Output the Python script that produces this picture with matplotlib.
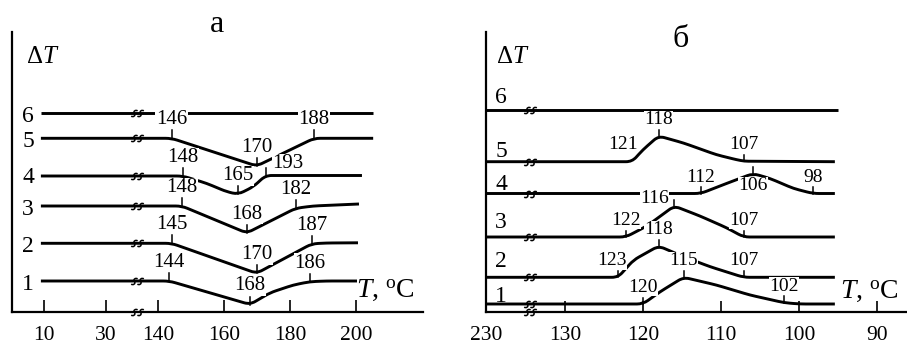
import numpy as np
import matplotlib
matplotlib.use('Agg')
import matplotlib.pyplot as plt
from matplotlib.path import Path
from matplotlib.patches import PathPatch

plt.rcParams['font.family'] = ['Liberation Serif', 'DejaVu Serif']
plt.rcParams['mathtext.fontset'] = 'custom'
plt.rcParams['mathtext.rm'] = 'Liberation Serif'
plt.rcParams['mathtext.it'] = 'Liberation Serif:italic'

# ── data: panel а (heating, endothermic dips) ─────────────────
a_ticks = [10, 30, 140, 160, 180, 200]
a_T = [
    [9, 143.4, 167.9, 174, 181, 186, 191, 200.3],          # 1
    [9, 144.1, 169.9, 186.6, 191, 200.6],                  # 2
    [9, 147.2, 166.9, 181.7, 187, 200.9],                  # 3
    [9, 147.5, 154.7, 160.8, 164.3, 168.9, 172.6, 201.8],  # 4
    [9, 144.1, 169.9, 187.3, 205.2],                       # 5
    [9, 205.2],                                            # 6
]
a_dT = [
    [0, 0, -23.5, -11.7, -4, -0.7, 0, 0],
    [0, 0, -30, -0.5, 0.3, 0.5],
    [0, 0, -27, -2.3, 0, 2],
    [0, 0, -7.3, -15.7, -18.3, -10.7, 0.5, 0.5],
    [0, 0, -27.7, 0, 0],
    [0, 0],
]
a_lab_curve = [5, 5, 5, 4, 4, 4, 3, 3, 3, 2, 2, 2, 1, 1, 1]
a_lab_text = ['146', '170', '188', '148', '165', '193', '148', '168', '182',
              '145', '170', '187', '144', '168', '186']
a_lab_T = [144.1, 169.9, 187.3, 147.5, 164.3, 172.6, 147.2, 166.9, 181.7,
           144.1, 169.9, 186.6, 143.4, 167.9, 186]

# ── data: panel б (cooling, exothermic peaks) ─────────────────
b_ticks = [230, 130, 120, 110, 100, 90]
b_T = [
    [230, 120, 117.8, 114.8, 110.6, 106.3, 101.9, 99.9, 95.4],  # 1
    [230, 123.2, 121.2, 118, 114.8, 111.4, 107.1, 95.4],        # 2
    [230, 122.2, 119.5, 116, 112.7, 109.3, 107.1, 95.4],        # 3
    [230, 112.6, 109.3, 105.9, 103.7, 100.7, 98.2, 95.4],       # 4
    [230, 121.4, 120, 118, 114.8, 110.6, 108, 107, 95.4],       # 5
    [230, 95],                                                  # 6
]
b_dT = [
    [0, 0, 12.3, 26.7, 19, 9, 1.3, 0, 0],
    [0, 0, 17.3, 31.3, 20.6, 10.6, 0, 0],
    [0, 0, 11, 31, 21, 9.3, 0, 0],
    [0, 0, 10, 20, 15, 5, 0, 0],
    [0, 0, 12, 25.7, 18.7, 7, 2, 0.5, 0],
    [0, 0],
]
b_lab_curve = [5, 5, 5, 4, 4, 4, 3, 3, 3, 2, 2, 2, 1, 1, 1]
b_lab_text = ['121', '118', '107', '112', '106', '98', '122', '116', '107',
              '123', '118', '107', '120', '115', '102']
b_lab_T = [None, 118, 107, 112.6, 105.9, 98.2, 122.2, 116, 107.1,
           123.2, 118, 107.1, 120, 114.8, 101.9]

# ── layout (pixels) ───────────────────────────────────────────
W, H = 907, 346
a_base = [31, 68.7, 106, 136, 173.7, 199.5]
b_base = [8, 34.7, 75, 118.5, 150.3, 202]

fig = plt.figure(figsize=(W / 100, H / 100), dpi=100)


def px_rect(l, t, r, b):
    return [l / W, 1 - b / H, (r - l) / W, (b - t) / H]


ax_a = fig.add_axes(px_rect(12, 32, 423, 312))
ax_b = fig.add_axes(px_rect(486, 32, 907, 312))

# broken temperature axes
TA = [-100, 40, 134, 400]
PA = [-110 * 3.1, 93, 94.2, 114 + 260 * 3.3]
ax_a.set_xscale('function', functions=(lambda t: np.interp(t, TA, PA),
                                       lambda p: np.interp(p, PA, TA)))
ax_a.set_xlim(-0.32, 220.3)
TB = [0, 134, 200, 230, 400]
PB = [-1014, 31.2, 35, 79, 79 + 170 * 7.8]
ax_b.set_xscale('function', functions=(lambda t: np.interp(t, TB, PB),
                                       lambda p: np.interp(p, PB, TB)))
ax_b.set_xlim(230, 86.15)

for ax, ticks, tl in [(ax_a, a_ticks, 8.6), (ax_b, b_ticks, 7.7)]:
    ax.set_ylim(0, 280)
    ax.set_yticks([])
    ax.set_xticks(ticks)
    ax.set_xticklabels([str(t) for t in ticks])
    ax.tick_params(axis='x', direction='in', length=tl, width=1.2,
                   labelsize=15.5, pad=10)
    for s in ['top', 'right']:
        ax.spines[s].set_visible(False)
    for s in ['left', 'bottom']:
        ax.spines[s].set_linewidth(1.6)
    ax.patch.set_alpha(0)


def draw_curve(ax, xs, ys, r=6):
    pts = ax.transData.transform(np.column_stack([xs, ys]))
    verts = [pts[0]]
    codes = [Path.MOVETO]
    for i in range(1, len(pts) - 1):
        p0, p1, p2 = pts[i - 1], pts[i], pts[i + 1]
        d1 = np.hypot(*(p1 - p0))
        d2 = np.hypot(*(p2 - p1))
        rr = min(r, 0.5 * d1, 0.5 * d2)
        verts += [p1 + (p0 - p1) * rr / d1, p1, p1 + (p2 - p1) * rr / d2]
        codes += [Path.LINETO, Path.CURVE3, Path.CURVE3]
    verts.append(pts[-1])
    codes.append(Path.LINETO)
    verts = ax.transData.inverted().transform(np.array(verts))
    ax.add_patch(PathPatch(Path(verts, codes), fill=False, lw=2.1,
                           color='black', capstyle='butt', zorder=2,
                           clip_on=False))


# break mark "ss": two slanted S strokes as one marker path
_s = np.array([[0.8, 0.9], [0.0, 1.5], [-0.9, 0.7], [0.0, 0.0],
               [0.9, -0.7], [0.0, -1.5], [-0.8, -0.9]])
_verts, _codes = [], []
for dx in (-1.1, 1.1):
    v = _s.copy()
    v[:, 0] += dx + 0.35 * v[:, 1]
    _verts += list(v)
    _codes += [Path.MOVETO] + [Path.CURVE4] * 6
SS_MARK = Path(_verts, _codes)


def ss(ax, x, y):
    ax.plot([x], [y], marker=SS_MARK, markersize=9, mew=1.1, mfc='none',
            mec='black', ls='none', zorder=6, clip_on=False)


box = dict(facecolor='white', edgecolor='none', pad=0.3)

# panel а
for T, d, base in zip(a_T, a_dT, a_base):
    draw_curve(ax_a, T, np.array(d) + base)
    ss(ax_a, 40, base)
ss(ax_a, 40, 0)
for c, txt, t in zip(a_lab_curve, a_lab_text, a_lab_T):
    y = a_base[c - 1] + np.interp(t, a_T[c - 1], a_dT[c - 1])
    ax_a.plot([t, t], [y, y + 8], color='black', lw=1.1, zorder=5)
    lx, ly = t, y + 18.5
    if txt == '193':
        lx, ly = 179.4, y + 11.5
    ax_a.text(lx, ly, txt, fontsize=15, ha='center', va='center',
              bbox=box, zorder=4)

# panel б
for T, d, base in zip(b_T, b_dT, b_base):
    draw_curve(ax_b, T, np.array(d) + base)
    ss(ax_b, 200, base)
ss(ax_b, 200, 0)
for c, txt, t in zip(b_lab_curve, b_lab_text, b_lab_T):
    base = b_base[c - 1]
    if t is None:
        ax_b.text(122.6, base + 17.2, txt, fontsize=14, ha='center',
                  va='center', zorder=1)
        continue
    y = base + np.interp(-t, -np.array(b_T[c - 1]), b_dT[c - 1])
    ax_b.plot([t, t], [y, y + 6.5], color='black', lw=1.1, zorder=5)
    lx, ly = t, y + 16.5
    if txt == '106':
        ly = y - 12.2
    elif txt == '116':
        lx, ly = 118.5, y + 7.5
    elif txt == '123':
        lx = 124
    ax_b.text(lx, ly, txt, fontsize=14, ha='center', va='center',
              bbox=box, zorder=4)


def ftext(x, y, s, **kw):
    fig.text(x / W, 1 - y / H, s, **kw)


# titles, axis names and curve numbers
ftext(217, 32, 'а', fontsize=23, ha='center', va='baseline')
ftext(680.5, 47, 'б', fontsize=23, ha='center', va='baseline')
ftext(26, 63, r'$\Delta T$', fontsize=18, ha='left', va='baseline')
ftext(496, 63, r'$\Delta T$', fontsize=18, ha='left', va='baseline')
ftext(356, 297, r'$T$, $^{\rm o}$C', fontsize=20, ha='left', va='baseline')
ftext(840, 298, r'$T$, $^{\rm o}$C', fontsize=20, ha='left', va='baseline')

a_num_y = [290, 251.7, 215, 183.3, 146.7, 121.7]
b_num_y = [301.7, 266.7, 228, 190, 157, 103]
for i in range(6):
    ftext(28, a_num_y[i], str(i + 1), fontsize=17, ha='center', va='baseline')
    ftext(501, b_num_y[i], str(i + 1), fontsize=17, ha='center', va='baseline')

fig.savefig('out.png', dpi=100, facecolor='white')
